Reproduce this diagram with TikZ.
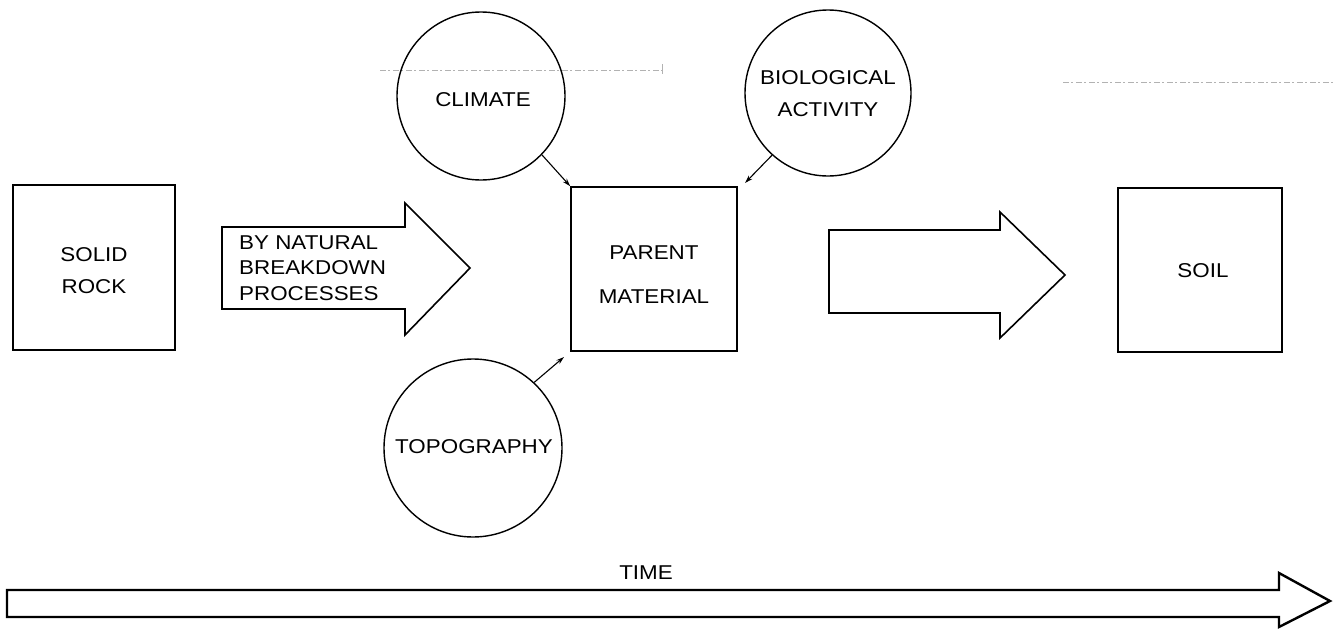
\documentclass[tikz,border=0pt]{standalone}
\usepackage{fontspec}
\newfontfamily\dfont[FakeStretch=1.12]{Liberation Sans}
\usetikzlibrary{arrows.meta}
\tikzset{
  lbl/.style={font=\dfont\fontsize{20}{32}\selectfont, align=center, inner sep=0pt},
  boxnode/.style={draw, line width=1.6pt, minimum width=#1, minimum height=165pt, inner sep=0pt},
  factor/.style={draw, circle, line width=1.4pt, inner sep=0pt, minimum size=#1},
  bigarrow/.style={draw, line width=1.6pt, line join=miter},
  link/.style={line width=1.1pt, -{Stealth[length=8pt,width=5pt]}},
  faint/.style={gray!60, line width=0.8pt, dash pattern=on 6pt off 2pt on 2pt off 3pt}
}
\begin{document}
\begin{tikzpicture}[x=1pt,y=-1pt]
\useasboundingbox (0,0) rectangle (1334,629);
% faint scan lines
\coordinate (fa1) at (380,70);
\coordinate (fa2) at (662,70);
\coordinate (fb1) at (1063,82);
\coordinate (fb2) at (1334,82);
\draw[faint] (fa1) -- (fa2);
\draw[gray!60, line width=0.8pt] (662,64) -- (662,74);
\draw[faint] (fb1) -- (fb2);
% boxes
\node[boxnode=162pt] (rock) at (94,267.5) {};
\node[lbl] (rocktxt) at (94,271) {SOLID\\ROCK};
\node[boxnode=166pt, minimum height=164pt] (parent) at (654,269) {};
\node[lbl, font=\dfont\fontsize{20}{44}\selectfont] (parenttxt) at (654,275) {PARENT\\MATERIAL};
\node[boxnode=164pt, minimum height=164pt] (soil) at (1200,270) {};
\node[lbl] (soiltxt) at (1203,271) {SOIL};
% circles
\node[factor=168pt] (clim) at (481,96) {};
\node[lbl] (climtxt) at (483,100) {CLIMATE};
\node[factor=166pt] (bio) at (828,93) {};
\node[lbl] (biotxt) at (828,94) {BIOLOGICAL\\ACTIVITY};
\node[factor=178pt] (topo) at (473,448) {};
\node[lbl] (topotxt) at (474,447) {TOPOGRAPHY};
% links
\coordinate (topoend) at (564,357);
\coordinate (bioend) at (745,183);
\draw[link] (clim.-44) -- (parent.north west);
\draw[link] (bio.-132) -- (bioend);
\draw[link] (topo.47) -- (topoend);
% big arrow 1
\coordinate (a1s) at (222,227);
\draw[bigarrow] (a1s) -- (405,227) -- (405,203) -- (470,268) -- (405,335) -- (405,309) -- (222,309) -- cycle;
\node[lbl, font=\dfont\fontsize{20}{25.5}\selectfont, align=left, anchor=west] (a1txt) at (239,268) {BY NATURAL\\BREAKDOWN\\PROCESSES};
% big arrow 2
\coordinate (a2s) at (829,230);
\draw[bigarrow] (a2s) -- (1000,230) -- (1000,212) -- (1065,275) -- (1000,338) -- (1000,313) -- (829,313) -- cycle;
% time arrow
\coordinate (ts) at (7,590);
\draw[line width=2.4pt, line join=miter] (ts) -- (1279,590) -- (1279,573) -- (1330,601) -- (1279,627) -- (1279,617) -- (7,617) -- cycle;
\node[lbl] (timetxt) at (646,573) {TIME};
\end{tikzpicture}
\end{document}
